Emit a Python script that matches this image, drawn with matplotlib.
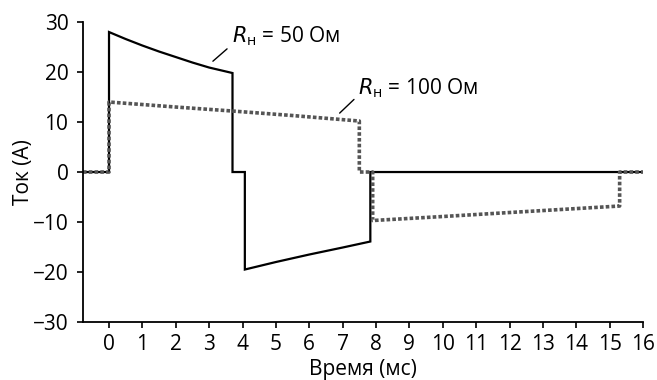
import matplotlib.pyplot as plt

plt.rcParams['font.family'] = ['Open Sans', 'DejaVu Sans']

# Load current, R = 50 Ohm (solid)
t50 = [-0.78, 0.0, 0.0, 0.5, 1.0, 1.5, 2.0, 2.5, 3.0, 3.7, 3.7, 4.07, 4.07, 5.0, 6.0, 7.0, 7.83, 7.83, 16.0]
i50 = [0, 0, 28.0, 26.6, 25.3, 24.1, 23.0, 21.9, 20.9, 19.8, 0, 0, -19.5, -18.0, -16.5, -15.1, -13.9, 0, 0]

# Load current, R = 100 Ohm (dotted)
t100 = [-0.78, 0.0, 0.0, 2.0, 3.7, 5.5, 7.5, 7.5, 7.9, 7.9, 10.0, 12.0, 15.3, 15.3, 16.0]
i100 = [0, 0, 14.0, 13.0, 12.2, 11.3, 10.2, 0, 0, -9.7, -8.9, -8.1, -6.8, 0, 0]

xticks = list(range(0, 17))
yticks = [-30, -20, -10, 0, 10, 20, 30]
ytick_labels = ['\u221230', '\u221220', '\u221210', '0', '10', '20', '30']

fig = plt.figure(figsize=(6.57, 3.8), dpi=100)
ax = fig.add_axes([0.1263, 0.1526, 0.8524, 0.7894])

ax.plot(t50, i50, color='black', lw=1.6, solid_joinstyle='miter')
ax.plot(t100, i100, color='#555555', lw=2.6, linestyle=(0, (1.0, 0.6)))

ax.set_xlim(-0.78, 16)
ax.set_ylim(-30, 30)
ax.set_xticks(xticks)
ax.set_yticks(yticks)
ax.set_yticklabels(ytick_labels)
ax.tick_params(labelsize=15, width=1.2, length=4.5, direction='out')
ax.tick_params(axis='x', pad=4)
ax.tick_params(axis='y', pad=6)

for side in ['top', 'right']:
    ax.spines[side].set_visible(False)
for side in ['left', 'bottom']:
    ax.spines[side].set_linewidth(1.3)

ax.set_xlabel('Время (мс)', fontsize=15, labelpad=3)
ax.set_ylabel('Ток (А)', fontsize=15, labelpad=-1)

# labels with leader lines
ax.annotate('', xy=(3.05, 21.8), xytext=(3.60, 25.0),
            arrowprops=dict(arrowstyle='-', color='black', lw=1.0))
ax.text(3.68, 26.0, r'$\mathit{R}_{\mathregular{н}}$ = 50 Ом', fontsize=15)
ax.annotate('', xy=(6.85, 11.4), xytext=(7.40, 14.9),
            arrowprops=dict(arrowstyle='-', color='black', lw=1.0))
ax.text(7.45, 15.5, r'$\mathit{R}_{\mathregular{н}}$ = 100 Ом', fontsize=15)

fig.savefig('out.png', dpi=100)
